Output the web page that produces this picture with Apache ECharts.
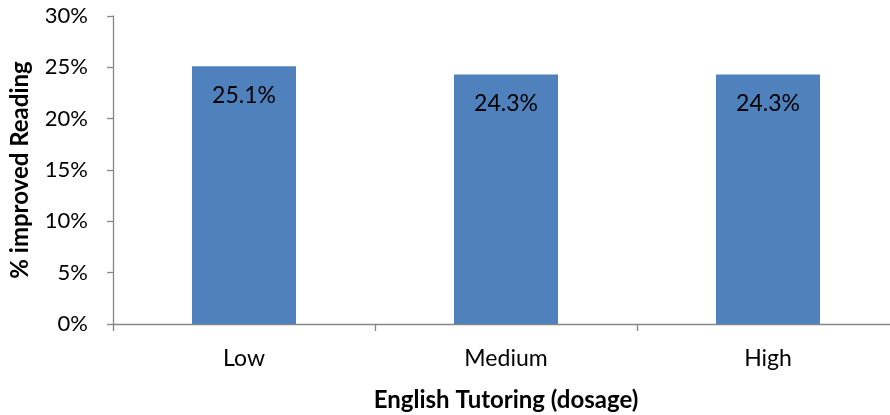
<!DOCTYPE html>
<html><head><meta charset="utf-8">
<script src="https://cdn.jsdelivr.net/npm/echarts@6/dist/echarts.min.js"></script>
<style>html,body{margin:0;padding:0;background:#fff}#c{width:890px;height:415px}</style>
</head><body><div id="c"></div>
<script>
var categories = ['Low', 'Medium', 'High'];
var values = [25.1, 24.3, 24.3];
var yTicks = [0, 5, 10, 15, 20, 25, 30];
var FONT = 'Lato';
var chart = echarts.init(document.getElementById('c'));
chart.setOption({
  animation: false,
  textStyle: { fontFamily: FONT },
  grid: { left: 113, right: -9, top: 16, bottom: 91, containLabel: false, outerBoundsMode: 'none' },
  xAxis: {
    type: 'category', data: categories,
    name: 'English Tutoring (dosage)', nameLocation: 'middle', nameGap: 64,
    nameTextStyle: { fontFamily: FONT, fontSize: 24, fontWeight: 'bold', color: '#000' },
    axisLine: { lineStyle: { color: '#868686', width: 1.3 } },
    axisTick: { show: true, length: 7, lineStyle: { color: '#868686', width: 1.3 } },
    axisLabel: { fontSize: 23, color: '#000', margin: 23, fontFamily: FONT }
  },
  yAxis: {
    type: 'value', min: 0, max: 30, interval: 5,
    name: '% improved Reading', nameLocation: 'middle', nameGap: 81, nameRotate: 90,
    nameTextStyle: { fontFamily: FONT, fontSize: 24, fontWeight: 'bold', color: '#000' },
    splitLine: { show: false },
    axisLine: { show: true, lineStyle: { color: '#868686', width: 1.3 } },
    axisTick: { show: true, length: 6, lineStyle: { color: '#868686', width: 1.3 } },
    axisLabel: { fontSize: 22, color: '#000', margin: 25, fontFamily: FONT,
      formatter: function (v) { return yTicks.indexOf(v) >= 0 ? v + '%' : ''; } }
  },
  series: [{
    type: 'bar', data: values, barWidth: 104,
    itemStyle: { color: '#4F81BD' },
    label: { show: true, position: 'insideTop', distance: 18, fontSize: 23, color: '#000', fontFamily: FONT,
      formatter: function (p) { return p.value.toFixed(1) + '%'; } }
  }]
});
</script></body></html>
